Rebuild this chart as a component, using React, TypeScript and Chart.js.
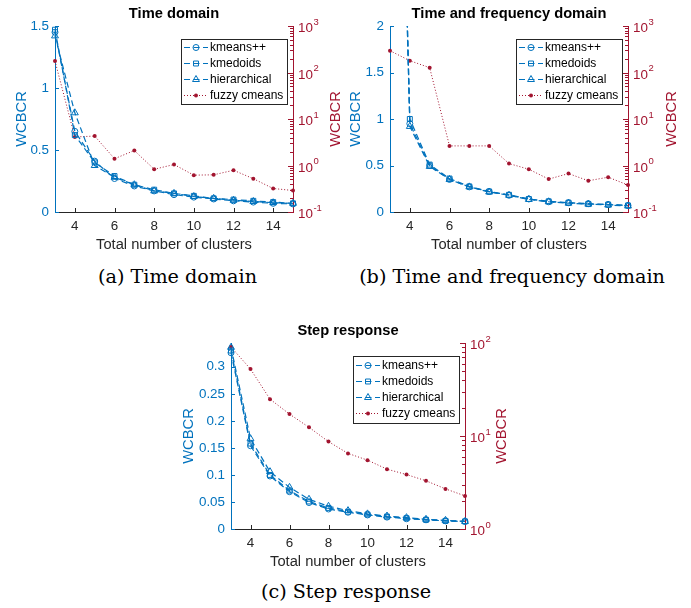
import React, { useEffect, useRef } from 'react';
import { Chart, registerables } from 'chart.js';

Chart.register(...registerables);

// ---------------- data ----------------
const clusters = [3, 4, 5, 6, 7, 8, 9, 10, 11, 12, 13, 14, 15];
const clusterTicks = [4, 6, 8, 10, 12, 14];
const seriesNames = ['kmeans++', 'kmedoids', 'hierarchical', 'fuzzy cmeans'];

// (a) Time domain
const timeKmeans = [1.45, 0.65, 0.41, 0.27, 0.21, 0.17, 0.14, 0.12, 0.105, 0.09, 0.08, 0.07, 0.065];
const timeKmedoids = [1.47, 0.62, 0.4, 0.29, 0.22, 0.18, 0.15, 0.13, 0.11, 0.1, 0.09, 0.08, 0.07];
const timeHier = [1.42, 0.8, 0.375, 0.28, 0.22, 0.17, 0.15, 0.125, 0.11, 0.095, 0.085, 0.075, 0.07];
const timeFuzzy = [176, 4.1, 4.3, 1.4, 2.1, 0.83, 1.05, 0.62, 0.63, 0.79, 0.52, 0.32, 0.29];
const timeLeftTicks = [0, 0.5, 1, 1.5];
const timeRightDecades = [0.1, 1, 10, 100, 1000];

// (b) Time and frequency domain
const tfKmeans = [9.5, 0.95, 0.5, 0.35, 0.27, 0.22, 0.18, 0.14, 0.11, 0.1, 0.09, 0.08, 0.07];
const tfKmedoids = [9.3, 1.0, 0.51, 0.36, 0.275, 0.22, 0.185, 0.14, 0.115, 0.1, 0.085, 0.08, 0.07];
const tfHier = [9.0, 0.92, 0.49, 0.35, 0.27, 0.215, 0.18, 0.135, 0.11, 0.095, 0.085, 0.075, 0.065];
const tfFuzzy = [294, 179, 127, 2.64, 2.64, 2.64, 1.1, 0.83, 0.51, 0.67, 0.47, 0.56, 0.38];
const tfLeftTicks = [0, 0.5, 1, 1.5, 2];
const tfRightDecades = [0.1, 1, 10, 100, 1000];

// (c) Step response
const stepKmeans = [0.326, 0.154, 0.098, 0.069, 0.049, 0.037, 0.031, 0.026, 0.022, 0.019, 0.017, 0.015, 0.014];
const stepKmedoids = [0.33, 0.158, 0.1, 0.071, 0.051, 0.039, 0.032, 0.027, 0.023, 0.02, 0.017, 0.015, 0.014];
const stepHier = [0.336, 0.167, 0.106, 0.077, 0.055, 0.042, 0.034, 0.028, 0.024, 0.021, 0.018, 0.016, 0.014];
const stepFuzzy = [90.6, 52.5, 24.9, 17.2, 12.4, 8.7, 6.5, 5.5, 4.4, 3.85, 3.3, 2.7, 2.27];
const stepLeftTicks = [0, 0.05, 0.1, 0.15, 0.2, 0.25, 0.3];
const stepRightDecades = [1, 10, 100];

const captions = ['(a) Time domain', '(b) Time and frequency domain', '(c) Step response'];

// ---------------- styles ----------------
const FONT = '"Liberation Sans", Arial, Helvetica, sans-serif';
const SERIF = '"DejaVu Serif", serif';
const BLUE = '#0072BD';
const RED = '#A2142F';
const GRAY = '#262626';
const TICK_SIZE = 13.4;
const LABEL_SIZE = 14.7;

type Panel = {
  key: string;
  title: string;
  kmeans: number[];
  kmedoids: number[];
  hier: number[];
  fuzzy: number[];
  leftMax: number;
  leftTicks: number[];
  rightMin: number;
  rightMax: number;
  rightDecades: number[];
  box: { x: number; y: number; w: number; h: number };
  area: { l: number; t: number; r: number; b: number };
  titleY: number;
  leftTitleX: number;
  rightTitleDX: number;
  legendH: number;
  clipTop: number;
};

const panels: Panel[] = [
  {
    key: 'a', title: 'Time domain',
    kmeans: timeKmeans, kmedoids: timeKmedoids, hier: timeHier, fuzzy: timeFuzzy,
    leftMax: 1.5, leftTicks: timeLeftTicks, rightMin: 0.1, rightMax: 1000, rightDecades: timeRightDecades,
    box: { x: 0, y: 0, w: 345, h: 262 }, area: { l: 55, t: 26, r: 293, b: 212 },
    titleY: 14, leftTitleX: 22, rightTitleDX: 43, legendH: 65, clipTop: 8,
  },
  {
    key: 'b', title: 'Time and frequency domain',
    kmeans: tfKmeans, kmedoids: tfKmedoids, hier: tfHier, fuzzy: tfFuzzy,
    leftMax: 2, leftTicks: tfLeftTicks, rightMin: 0.1, rightMax: 1000, rightDecades: tfRightDecades,
    box: { x: 345, y: 0, w: 346, h: 262 }, area: { l: 390, t: 26, r: 628, b: 212 },
    titleY: 14, leftTitleX: 356, rightTitleDX: 44, legendH: 65, clipTop: 0,
  },
  {
    key: 'c', title: 'Step response',
    kmeans: stepKmeans, kmedoids: stepKmedoids, hier: stepHier, fuzzy: stepFuzzy,
    leftMax: 0.344, leftTicks: stepLeftTicks, rightMin: 1, rightMax: 100, rightDecades: stepRightDecades,
    box: { x: 170, y: 310, w: 350, h: 270 }, area: { l: 231, t: 343, r: 465, b: 529 },
    titleY: 330.5, leftTitleX: 189, rightTitleDX: 37, legendH: 67, clipTop: 8,
  },
];

function pts(ys: number[]) {
  return clusters.map((x, i) => ({ x, y: ys[i] }));
}

function blueSeries(label: string, ys: number[], pointStyle: string, radius: number) {
  return {
    label,
    data: pts(ys),
    yAxisID: 'yL',
    borderColor: BLUE,
    backgroundColor: 'rgba(0,0,0,0)',
    borderWidth: 1.2,
    borderDash: [6, 3.5],
    pointStyle,
    pointRadius: radius,
    pointBorderWidth: 1,
    pointBorderColor: BLUE,
    pointBackgroundColor: 'rgba(0,0,0,0)',
    tension: 0,
    fill: false,
  };
}

function drawMarker(ctx: CanvasRenderingContext2D, style: string, x: number, y: number, r: number, fill: boolean, color: string) {
  ctx.beginPath();
  if (style === 'rect') {
    const s = Math.SQRT1_2 * r;
    ctx.rect(x - s, y - s, 2 * s, 2 * s);
  } else if (style === 'triangle') {
    let rad = 0;
    ctx.moveTo(x + Math.sin(rad) * r, y - Math.cos(rad) * r);
    rad += (2 * Math.PI) / 3;
    ctx.lineTo(x + Math.sin(rad) * r, y - Math.cos(rad) * r);
    rad += (2 * Math.PI) / 3;
    ctx.lineTo(x + Math.sin(rad) * r, y - Math.cos(rad) * r);
    ctx.closePath();
  } else {
    ctx.arc(x, y, r, 0, Math.PI * 2);
  }
  if (fill) {
    ctx.fillStyle = color;
    ctx.fill();
  } else {
    ctx.strokeStyle = color;
    ctx.lineWidth = 1;
    ctx.stroke();
  }
}

function makeExtras(p: Panel) {
  return {
    id: 'matlabExtras_' + p.key,
    afterDraw(chart: any) {
      const ctx: CanvasRenderingContext2D = chart.ctx;
      const a = chart.chartArea;
      const xs = chart.scales.x;
      const yl = chart.scales.yL;
      const yr = chart.scales.yR;
      ctx.save();
      ctx.setLineDash([]);
      ctx.lineWidth = 1;
      // x ticks (inward)
      ctx.strokeStyle = GRAY;
      ctx.beginPath();
      xs.ticks.forEach((t: any) => {
        const px = Math.round(xs.getPixelForValue(t.value)) + 0.5;
        ctx.moveTo(px, a.bottom);
        ctx.lineTo(px, a.bottom - 4);
      });
      ctx.stroke();
      // left ticks (inward)
      ctx.strokeStyle = BLUE;
      ctx.beginPath();
      yl.ticks.forEach((t: any) => {
        const py = Math.round(yl.getPixelForValue(t.value)) + 0.5;
        ctx.moveTo(a.left, py);
        ctx.lineTo(a.left + 4, py);
      });
      ctx.stroke();
      // right log ticks (major + minor)
      ctx.strokeStyle = RED;
      ctx.beginPath();
      p.rightDecades.forEach((d) => {
        for (let m = 1; m < 10; m++) {
          const v = d * m;
          if (v < p.rightMin * 0.999 || v > p.rightMax * 1.001) continue;
          const py = Math.round(yr.getPixelForValue(v)) + 0.5;
          const len = m === 1 ? 5 : 3;
          ctx.moveTo(a.right, py);
          ctx.lineTo(a.right - len, py);
        }
      });
      ctx.stroke();
      // right tick labels 10^k
      ctx.fillStyle = RED;
      ctx.textAlign = 'left';
      ctx.textBaseline = 'middle';
      p.rightDecades.forEach((d) => {
        const py = yr.getPixelForValue(d);
        const exp = String(Math.round(Math.log10(d)));
        ctx.font = `${TICK_SIZE}px ${FONT}`;
        ctx.fillText('10', a.right + 5, py + 2.5);
        const w = ctx.measureText('10').width;
        ctx.font = `9.5px ${FONT}`;
        ctx.fillText(exp, a.right + 5 + w + 0.5, py - 4);
      });
      // right axis title
      ctx.save();
      ctx.translate(a.right + p.rightTitleDX, (a.top + a.bottom) / 2);
      ctx.rotate(-Math.PI / 2);
      ctx.textAlign = 'center';
      ctx.textBaseline = 'middle';
      ctx.font = `${LABEL_SIZE}px ${FONT}`;
      ctx.fillStyle = RED;
      ctx.fillText('WCBCR', 0, 0);
      ctx.restore();
      // legend
      const lw = 106;
      const lx = Math.round(a.right - 6 - lw);
      const ly = Math.round(a.top + 13);
      const lh = p.legendH;
      ctx.fillStyle = '#ffffff';
      ctx.fillRect(lx, ly, lw, lh);
      ctx.strokeStyle = GRAY;
      ctx.lineWidth = 1;
      ctx.strokeRect(lx + 0.5, ly + 0.5, lw, lh);
      const rowStart = (lh - 3 * 16) / 2;
      chart.data.datasets.forEach((ds: any, i: number) => {
        const cy = ly + rowStart + i * 16;
        ctx.strokeStyle = ds.borderColor;
        ctx.lineWidth = ds.borderWidth;
        ctx.setLineDash(ds.borderDash || []);
        ctx.beginPath();
        ctx.moveTo(lx + 3, cy);
        ctx.lineTo(lx + 27, cy);
        ctx.stroke();
        ctx.setLineDash([]);
        const filled = ds.pointBackgroundColor !== 'rgba(0,0,0,0)';
        drawMarker(ctx, ds.pointStyle, lx + 15, cy, ds.pointRadius, filled, ds.pointBorderColor);
        ctx.fillStyle = '#000';
        ctx.font = `12px ${FONT}`;
        ctx.textAlign = 'left';
        ctx.textBaseline = 'middle';
        ctx.fillText(ds.label, lx + 29, cy);
      });
      ctx.restore();
    },
  };
}

function fmt(v: number) {
  return String(+Number(v).toFixed(3));
}

function buildConfig(p: Panel): any {
  const W = p.box.w;
  const H = p.box.h;
  const l = p.area.l - p.box.x;
  const r = p.area.r - p.box.x;
  const t = p.area.t - p.box.y;
  const b = p.area.b - p.box.y;
  const xH = H - b;
  const rightW = W - r;
  const titleLH = LABEL_SIZE * 1.2;
  const tickLH = TICK_SIZE * 1.2;
  const titlePt = p.titleY - p.box.y - titleLH / 2;
  const titlePb = t - titleLH - titlePt;
  const xTickPad = 14.5 - tickLH / 2;
  const xTitlePb = H - (b + 32.5) - titleLH / 2;
  const leftTitlePt = p.leftTitleX - p.box.x - titleLH / 2;
  const clip = { left: 8, right: 8, top: p.clipTop, bottom: 8 };

  const datasets = [
    { ...blueSeries(seriesNames[0], p.kmeans, 'circle', 3), clip },
    { ...blueSeries(seriesNames[1], p.kmedoids, 'rect', 3.5), clip },
    { ...blueSeries(seriesNames[2], p.hier, 'triangle', 4), clip },
    {
      label: seriesNames[3],
      data: pts(p.fuzzy),
      yAxisID: 'yR',
      borderColor: RED,
      backgroundColor: RED,
      borderWidth: 1,
      borderDash: [1, 2],
      pointStyle: 'circle',
      pointRadius: 2,
      pointBorderWidth: 0,
      pointBorderColor: RED,
      pointBackgroundColor: RED,
      tension: 0,
      fill: false,
      clip,
    },
  ];

  return {
    type: 'line',
    data: { datasets },
    options: {
      responsive: false,
      maintainAspectRatio: false,
      animation: false,
      events: [],
      layout: { padding: 0 },
      plugins: {
        legend: { display: false },
        tooltip: { enabled: false },
        title: {
          display: true,
          text: p.title,
          fullSize: false,
          color: '#000',
          font: { family: FONT, size: LABEL_SIZE, weight: 'bold', lineHeight: 1.2 },
          padding: { top: titlePt, bottom: titlePb },
        },
      },
      scales: {
        x: {
          type: 'linear',
          position: 'bottom',
          min: 3,
          max: 15,
          afterBuildTicks: (s: any) => {
            s.ticks = clusterTicks.map((v) => ({ value: v }));
          },
          afterFit: (s: any) => {
            s.height = xH;
          },
          grid: { display: false, drawTicks: false },
          border: { display: true, color: GRAY, width: 1 },
          ticks: {
            color: GRAY,
            font: { family: FONT, size: TICK_SIZE, lineHeight: 1.2 },
            padding: xTickPad,
            maxRotation: 0,
            autoSkip: false,
          },
          title: {
            display: true,
            text: 'Total number of clusters',
            color: GRAY,
            font: { family: FONT, size: LABEL_SIZE, lineHeight: 1.2 },
            padding: { top: 0, bottom: xTitlePb },
          },
        },
        yL: {
          type: 'linear',
          position: 'left',
          min: 0,
          max: p.leftMax,
          afterBuildTicks: (s: any) => {
            s.ticks = p.leftTicks.map((v) => ({ value: v }));
          },
          afterFit: (s: any) => {
            s.width = l;
          },
          grid: { display: false, drawTicks: false },
          border: { display: true, color: BLUE, width: 1 },
          ticks: {
            color: BLUE,
            font: { family: FONT, size: TICK_SIZE, lineHeight: 1.2 },
            padding: 6,
            autoSkip: false,
            callback: (v: any) => fmt(v),
          },
          title: {
            display: true,
            text: 'WCBCR',
            color: BLUE,
            font: { family: FONT, size: LABEL_SIZE, lineHeight: 1.2 },
            padding: { top: leftTitlePt, bottom: 0 },
          },
        },
        yR: {
          type: 'logarithmic',
          position: 'right',
          min: p.rightMin,
          max: p.rightMax,
          afterFit: (s: any) => {
            s.width = rightW;
          },
          grid: { display: false, drawTicks: false },
          border: { display: true, color: RED, width: 1 },
          ticks: { display: false },
        },
      },
    },
    plugins: [makeExtras(p)],
  };
}

function PanelChart({ p }: { p: Panel }) {
  const ref = useRef<HTMLCanvasElement>(null);
  useEffect(() => {
    if (!ref.current) return;
    const chart = new Chart(ref.current, buildConfig(p));
    return () => chart.destroy();
  }, [p]);
  return (
    <canvas
      ref={ref}
      width={p.box.w}
      height={p.box.h}
      style={{ position: 'absolute', left: p.box.x, top: p.box.y, width: p.box.w, height: p.box.h }}
    />
  );
}

const captionPos = [
  { x: 177.5, y: 277 },
  { x: 512, y: 277 },
  { x: 346, y: 592 },
];

export default function App() {
  return (
    <div style={{ position: 'absolute', left: 0, top: 0, width: 691, height: 608, background: '#fff', overflow: 'hidden' }}>
      {panels.map((p) => (
        <PanelChart key={p.key} p={p} />
      ))}
      {captions.map((c, i) => (
        <div
          key={c}
          style={{
            position: 'absolute',
            left: captionPos[i].x,
            top: captionPos[i].y,
            transform: 'translate(-50%, -50%)',
            whiteSpace: 'nowrap',
            fontFamily: SERIF,
            fontSize: 19.2,
            lineHeight: 1,
            color: '#000',
          }}
        >
          {c}
        </div>
      ))}
    </div>
  );
}
